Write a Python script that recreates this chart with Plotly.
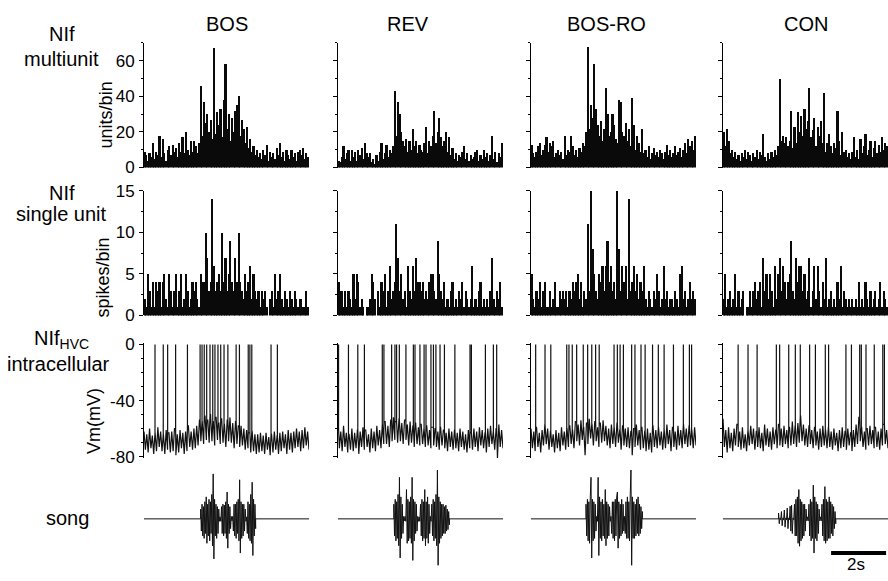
import numpy as np
import plotly.graph_objects as go

# ---------------- data ----------------
STIMULI = ["BOS", "REV", "BOS-RO", "CON"]
DURATION_S = 6.0

# NIf multiunit histograms (units/bin), 100 bins over 6 s
MU_BOS = [9, 7, 4, 8, 6, 14, 5, 9, 7, 18,
          6, 16, 8, 4, 10, 12, 7, 13, 9, 11,
          6, 14, 9, 17, 8, 20, 10, 7, 15, 9,
          15, 12, 8, 14, 46, 18, 37, 25, 30, 20,
          27, 16, 67, 19, 31, 24, 33, 17, 38, 58,
          22, 30, 15, 28, 20, 32, 35, 40, 18, 27,
          22, 14, 23, 11, 16, 9, 12, 7, 10, 6,
          8, 5, 10, 7, 13, 4, 9, 6, 8, 5,
          11, 7, 14, 6, 9, 4, 10, 7, 5, 10,
          6, 8, 4, 9, 10, 7, 11, 5, 8, 6]
MU_REV = [4, 3, 6, 12, 5, 8, 10, 4, 10, 6,
          9, 4, 10, 7, 11, 5, 14, 8, 6, 8,
          3, 5, 2, 7, 4, 9, 14, 5, 8, 13,
          6, 10, 8, 12, 43, 18, 37, 30, 20, 15,
          12, 16, 9, 15, 10, 22, 12, 15, 8, 13,
          10, 9, 14, 23, 8, 15, 12, 18, 32, 14,
          20, 28, 17, 12, 15, 20, 9, 17, 7, 11,
          5, 8, 4, 7, 6, 9, 12, 5, 8, 4,
          7, 5, 6, 9, 10, 4, 7, 5, 10, 6,
          8, 4, 7, 18, 5, 9, 3, 8, 6, 14]
MU_BOSRO = [13, 8, 6, 9, 12, 14, 7, 10, 13, 17,
            9, 14, 12, 15, 6, 8, 10, 7, 9, 5,
            18, 7, 10, 9, 18, 12, 7, 10, 6, 11,
            9, 14, 12, 20, 68, 22, 35, 28, 58, 33,
            24, 18, 26, 15, 22, 45, 30, 18, 20, 30,
            24, 16, 14, 38, 37, 20, 18, 25, 15, 22,
            12, 39, 24, 10, 18, 14, 9, 22, 8, 10,
            6, 12, 5, 8, 11, 7, 9, 6, 10, 8,
            5, 9, 13, 7, 10, 6, 8, 12, 7, 9,
            11, 6, 10, 14, 8, 16, 12, 15, 10, 18]
MU_CON = [20, 12, 22, 15, 8, 10, 6, 9, 5, 7,
          4, 8, 6, 10, 5, 9, 7, 4, 8, 6,
          10, 5, 9, 7, 19, 6, 4, 8, 5, 9,
          6, 10, 7, 12, 50, 15, 18, 14, 17, 12,
          15, 32, 11, 23, 14, 31, 20, 29, 18, 33,
          22, 26, 45, 17, 21, 28, 12, 23, 18, 26,
          14, 42, 9, 14, 19, 12, 8, 14, 11, 32,
          15, 7, 20, 9, 10, 6, 8, 5, 9, 17,
          6, 10, 5, 16, 8, 12, 19, 7, 10, 15,
          6, 11, 15, 8, 13, 9, 17, 10, 14, 12]

# NIf single unit histograms (spikes/bin)
SU_BOS = [2, 1, 5, 3, 1, 4, 1, 4, 3, 4,
          1, 4, 5, 2, 1, 5, 3, 1, 3, 5,
          1, 3, 5, 1, 2, 5, 3, 1, 2, 4,
          3, 4, 2, 1, 5, 4, 4, 10, 7, 3,
          4, 14, 6, 3, 4, 5, 3, 10, 4, 7,
          3, 5, 9, 4, 3, 7, 4, 10, 4, 3,
          2, 5, 3, 4, 6, 2, 5, 3, 2, 3,
          1, 3, 2, 3, 1, 0, 2, 3, 1, 5,
          2, 3, 5, 2, 1, 3, 2, 1, 3, 2,
          1, 3, 2, 1, 2, 2, 1, 1, 3, 1]
SU_REV = [4, 3, 3, 1, 3, 1, 3, 2, 1, 5,
          2, 5, 4, 1, 2, 1, 0, 1, 1, 2,
          5, 4, 2, 0, 3, 1, 4, 3, 5, 1,
          3, 6, 2, 3, 4, 11, 7, 3, 5, 2,
          3, 1, 6, 3, 2, 6, 3, 7, 4, 4,
          3, 4, 2, 3, 2, 4, 5, 5, 3, 2,
          9, 5, 3, 2, 4, 1, 2, 1, 3, 4,
          1, 2, 1, 3, 2, 4, 1, 3, 2, 1,
          2, 6, 1, 2, 1, 3, 4, 1, 2, 1,
          2, 1, 3, 7, 2, 1, 3, 2, 4, 1]
SU_BOSRO = [5, 2, 1, 3, 2, 4, 1, 3, 4, 1,
            1, 3, 1, 2, 4, 1, 1, 3, 2, 3,
            2, 3, 1, 3, 2, 4, 3, 4, 5, 2,
            4, 1, 3, 2, 11, 3, 15, 8, 5, 3,
            2, 5, 4, 6, 3, 6, 9, 4, 6, 3,
            4, 2, 15, 8, 3, 6, 4, 6, 2, 14,
            3, 4, 6, 3, 5, 2, 4, 3, 6, 2,
            1, 3, 2, 1, 3, 2, 5, 3, 1, 2,
            6, 2, 3, 1, 2, 2, 1, 3, 2, 1,
            5, 6, 2, 3, 1, 2, 4, 2, 3, 2]
SU_CON = [2, 5, 1, 2, 3, 1, 2, 5, 1, 3,
          1, 2, 3, 0, 1, 1, 3, 1, 3, 4,
          2, 3, 4, 1, 7, 3, 5, 2, 5, 3,
          1, 6, 2, 5, 7, 3, 6, 4, 2, 4,
          5, 9, 3, 2, 7, 4, 6, 6, 3, 5,
          2, 3, 7, 1, 3, 6, 2, 6, 3, 1,
          4, 2, 7, 1, 2, 3, 1, 2, 1, 4,
          2, 6, 1, 3, 2, 1, 2, 1, 2, 1,
          2, 1, 4, 1, 2, 1, 4, 2, 1, 3,
          1, 2, 3, 1, 2, 4, 1, 3, 2, 1]

# NIf_HVC intracellular membrane potential (mV), 120 samples over 6 s
VM_BOS = [-62, -75, -64, -77, -60, -74, -65, -78, -63, -76, -59, -73, -62, -76, -64, -78, -61, -75, -63, -77,
          -62, -76, -60, -79, -64, -77, -61, -74, -63, -78, -62, -76, -58, -73, -62, -75, -60, -74, -58, -72,
          -54, -69, -55, -71, -51, -68, -54, -70, -50, -69, -55, -72, -52, -68, -56, -71, -53, -70, -57, -73,
          -54, -69, -52, -70, -56, -74, -55, -71, -58, -73, -58, -72, -60, -75, -61, -74, -63, -77, -62, -76,
          -64, -78, -64, -77, -63, -76, -65, -78, -63, -75, -66, -79, -64, -77, -62, -75, -65, -78, -63, -76,
          -62, -74, -64, -78, -61, -75, -63, -77, -62, -74, -60, -73, -62, -76, -61, -74, -59, -72, -62, -75]
VM_REV = [-60, -74, -62, -76, -58, -73, -63, -77, -64, -75, -60, -76, -63, -74, -61, -78, -62, -73, -59, -75,
          -61, -73, -64, -77, -60, -74, -62, -76, -58, -72, -61, -74, -57, -71, -55, -71, -58, -73, -54, -69,
          -52, -68, -55, -70, -53, -69, -56, -71, -54, -68, -57, -72, -55, -70, -58, -73, -56, -71, -59, -72,
          -57, -71, -60, -73, -58, -72, -61, -74, -59, -72, -60, -73, -62, -75, -59, -72, -61, -74, -63, -76,
          -60, -73, -62, -75, -61, -74, -63, -76, -60, -73, -62, -75, -64, -77, -61, -74, -63, -75, -60, -73,
          -62, -76, -59, -72, -61, -74, -63, -77, -60, -73, -58, -71, -62, -75, -60, -81, -57, -73, -61, -74]
VM_BOSRO = [-60, -74, -62, -76, -59, -73, -63, -77, -61, -72, -57, -71, -60, -75, -62, -73, -64, -77, -61, -74,
            -63, -76, -59, -72, -62, -75, -60, -73, -58, -71, -61, -74, -55, -69, -57, -72, -54, -68, -59, -79,
            -56, -71, -53, -67, -57, -72, -55, -69, -59, -73, -56, -70, -54, -69, -58, -72, -60, -74, -57, -71,
            -59, -73, -56, -70, -61, -75, -58, -72, -60, -73, -59, -74, -62, -79, -60, -73, -57, -72, -61, -75,
            -59, -74, -62, -76, -60, -75, -63, -77, -58, -73, -61, -74, -59, -72, -62, -75, -60, -74, -57, -71,
            -61, -76, -59, -73, -62, -75, -58, -72, -61, -74, -57, -71, -60, -73, -58, -72, -61, -74, -59, -72]
VM_CON = [-53, -73, -61, -77, -59, -74, -63, -76, -60, -72, -57, -73, -62, -75, -59, -74, -64, -76, -61, -72,
          -58, -71, -60, -75, -62, -73, -59, -74, -63, -76, -57, -72, -60, -73, -62, -75, -59, -71, -61, -74,
          -57, -72, -60, -73, -58, -71, -61, -74, -59, -72, -55, -71, -58, -73, -56, -70, -51, -69, -57, -72,
          -60, -73, -58, -71, -61, -74, -59, -72, -62, -75, -60, -73, -58, -72, -61, -74, -59, -73, -62, -75,
          -60, -72, -63, -76, -61, -74, -59, -73, -62, -75, -60, -72, -63, -76, -61, -73, -57, -71, -52, -69,
          -59, -73, -62, -75, -60, -72, -58, -71, -61, -74, -59, -73, -62, -75, -60, -72, -57, -71, -61, -74]

# spike times (s)
SPIKES_BOS = [0.40, 0.70, 0.86, 1.15, 1.58, 2.04, 2.11, 2.19, 2.28, 2.40, 2.50, 2.58, 2.69, 2.79,
              2.91, 3.05, 3.35, 3.47, 3.79, 3.85, 3.92, 4.62, 4.85]
SPIKES_REV = [0.02, 0.38, 0.72, 0.96, 1.61, 1.67, 1.95, 2.07, 2.13, 2.23, 2.47, 2.74, 2.80, 2.98,
              3.13, 3.20, 3.38, 3.47, 3.56, 3.71, 3.87, 4.25, 4.80, 4.85, 5.36, 5.65, 5.77]
SPIKES_BOSRO = [0.17, 0.51, 0.72, 1.30, 1.38, 1.50, 1.66, 1.90, 2.06, 2.21, 2.35, 2.48, 3.02, 3.14,
                3.24, 3.36, 3.66, 3.78, 4.00, 4.15, 4.42, 4.63, 4.84, 5.18, 5.54, 5.76, 5.84]
SPIKES_CON = [0.55, 0.91, 1.24, 1.94, 2.06, 2.39, 2.63, 2.81, 3.15, 3.36, 3.72, 3.84, 4.47, 4.67,
              4.97, 5.03, 5.20, 5.50, 5.81, 5.87]
SPIKE_PEAK_MV = 0

# song waveforms (relative amplitude), 80 samples over each song's span
SONG_BOS = [0.2, -0.25, 0.3, -0.35, 0.25, -0.4, 0.35, -0.3, 0.45, -0.5, 0.3, -0.35, 0.4, -0.45, 0.35, -0.3,
            0.5, -0.55, 0.92, -0.82, 0.4, -0.35, 0.3, -0.4, 0.25, -0.3, 0.2,
            -0.05, 0.04, -0.05,
            0.25, -0.3, 0.3, -0.35, 0.28, -0.3, 0.35, -0.4, 0.55, -0.6, 0.3, -0.3, 0.25, -0.2,
            0.05, -0.04, 0.05,
            -0.25, 0.3, -0.35, 0.3, -0.4, 0.35, -0.3, 0.4, -0.45, 0.8, -0.7, 0.35, -0.4, 0.3, -0.35, 0.3, -0.25, 0.2,
            -0.05, 0.04,
            -0.3, 0.35, -0.4, 0.3, -0.45, 0.5, -0.5, 0.75, -0.75, 0.4, -0.35, 0.3, -0.2]
SONG_REV = [0.3, -0.35, 0.4, -0.45, 0.35, -0.4, 0.5, -0.55, 0.85, -0.8, 0.45, -0.4, 0.3, -0.3,
            0.05, -0.04, 0.05, -0.05,
            0.6, -0.5, 0.4, -0.45, 0.35, -0.4, 0.45, -0.5, 0.85, -0.85, 0.4, -0.45, 0.35, -0.3, 0.3, -0.25,
            0.05, -0.05, 0.04, -0.05,
            0.3, -0.35, 0.4, -0.45, 0.35, -0.4, 0.6, -0.55, 0.35, -0.4, 0.45, -0.5, 0.3, -0.3,
            0.05, -0.05,
            0.3, -0.35, 0.4, -0.45, 0.35, -0.4, 0.5, -0.55, 1.0, -0.95, 0.45, -0.5, 0.35, -0.4, 0.3, -0.35,
            0.3, -0.3, 0.25, -0.3, 0.28, -0.25, 0.2, -0.22, 0.15, -0.12]
SONG_BOSRO = [0.3, -0.35, 0.4, -0.45, 0.35, -0.5, 0.45, 0.85, -0.8, 0.4, -0.45, 0.35, -0.4, 0.3, -0.25,
              0.05, -0.05,
              0.85, -0.75, 0.45, -0.4, 0.35, -0.45, 0.4, -0.35, 0.3, -0.4, 0.6, -0.55, 0.35, -0.4, 0.3, -0.35, 0.25,
              -0.05, 0.05,
              -0.3, 0.35, -0.4, 0.35, -0.45, 0.4, -0.35, 0.45, 0.55, -0.6, 0.35, -0.4, 0.3, -0.35, 0.4, -0.3, 0.3, -0.25,
              0.05,
              -0.3, 0.35, -0.4, 0.45, -0.4, 0.35, -0.45, 0.5, 1.0, -0.95, 0.45, -0.4, 0.35, -0.4, 0.3, -0.35,
              0.4, -0.3, 0.45, -0.35, 0.3, -0.3, 0.25, -0.2, 0.15]
SONG_CON = [0.12, -0.1, 0.02, -0.02, 0.15, -0.14, 0.02, -0.02, 0.18, -0.17, 0.02, -0.02, 0.22, -0.2, 0.02, -0.02,
            0.26, -0.25, 0.28, -0.3, 0.02, -0.02,
            0.3, -0.35, 0.4, -0.35, 0.45, -0.5, 0.6, -0.56, 0.4, -0.45, 0.35, -0.4, 0.3, -0.35, 0.3, -0.25, 0.2,
            -0.04, 0.04, -0.04,
            0.3, -0.35, 0.4, -0.45, 0.35, -0.4, 0.69, -0.7, 0.45, -0.4, 0.35, -0.45, 0.3, -0.3, 0.2,
            -0.04, 0.04, -0.04,
            0.3, -0.35, 0.4, -0.45, 0.66, -0.5, 0.4, -0.45, 0.35, -0.4, 0.45, -0.4, 0.35, -0.3, 0.3, -0.35,
            0.25, -0.2, 0.15, -0.1]
SONG_START_S = [2.06, 2.03, 2.00, 2.02]
SONG_END_S = [4.06, 4.05, 4.05, 4.10]

MU_TICKS = [0, 20, 40, 60]
SU_TICKS = [0, 5, 10, 15]
VM_TICKVALS = [0, -40, -80]
VM_TICKTEXT = ["0", "-40", "-80"]
SCALEBAR_LEN_S = 2
SCALEBAR_START_S = 3.93

MU = [MU_BOS, MU_REV, MU_BOSRO, MU_CON]
SU = [SU_BOS, SU_REV, SU_BOSRO, SU_CON]
VM = [VM_BOS, VM_REV, VM_BOSRO, VM_CON]
SPIKES = [SPIKES_BOS, SPIKES_REV, SPIKES_BOSRO, SPIKES_CON]
SONGS = [SONG_BOS, SONG_REV, SONG_BOSRO, SONG_CON]

# ---------------- layout geometry (pixels) ----------------
W, H = 888, 581
FONT = "Liberation Sans, Arial, Helvetica, sans-serif"
COL_LEFT = [144, 338, 531, 723]
COL_W = 165
# (top_px, bottom_px, range)
ROWS = [
    (35.0, 163.9, [0, 70]),
    (187.9, 316.8, [0, 15]),
    (345.3, 464.3, [-81, 1]),
    (476.6, 577.6, [-1, 1]),
]


def xdom(c):
    return [COL_LEFT[c] / W, (COL_LEFT[c] + COL_W) / W]


def ydom(r):
    top, bot, _ = ROWS[r]
    return [1 - bot / H, 1 - top / H]


fig = go.Figure()
layout = {}


def axname(r, c):
    return r * 4 + c + 1


for r in range(4):
    for c in range(4):
        k = axname(r, c)
        xa = "xaxis" if k == 1 else f"xaxis{k}"
        ya = "yaxis" if k == 1 else f"yaxis{k}"
        layout[xa] = dict(domain=xdom(c), range=[0, DURATION_S], visible=False,
                          anchor="y" if k == 1 else f"y{k}", fixedrange=True)
        yax = dict(domain=ydom(r), range=ROWS[r][2], anchor="x" if k == 1 else f"x{k}",
                   showgrid=False, zeroline=False, fixedrange=True,
                   tickfont=dict(family=FONT, size=17, color="black"))
        if r < 3:
            yax.update(showline=True, linecolor="black", linewidth=1,
                       ticks="outside", ticklen=4, tickcolor="black", tickwidth=1,
                       showticklabels=(c == 0), ticklabelstandoff=1)
            if r == 0:
                yax.update(tickvals=MU_TICKS,
                           minor=dict(ticks="outside", ticklen=2, dtick=10, tickcolor="black"))
            elif r == 1:
                yax.update(tickvals=SU_TICKS,
                           minor=dict(ticks="outside", ticklen=2, dtick=2.5, tickcolor="black"))
            else:
                yax.update(tickvals=VM_TICKVALS, ticktext=VM_TICKTEXT,
                           minor=dict(ticks="outside", ticklen=2, dtick=10, tickcolor="black"))
        else:
            yax.update(visible=False)
        layout[ya] = yax

for c in range(4):
    # multiunit histogram
    k = axname(0, c)
    centers = (np.arange(len(MU[c])) + 0.5) * DURATION_S / len(MU[c])
    fig.add_trace(go.Bar(x=centers, y=MU[c], marker=dict(color="#0a0a0a", line=dict(width=0)),
                         width=DURATION_S / len(MU[c]), xaxis="x" if k == 1 else f"x{k}",
                         yaxis="y" if k == 1 else f"y{k}", showlegend=False))
    # single unit histogram
    k = axname(1, c)
    centers = (np.arange(len(SU[c])) + 0.5) * DURATION_S / len(SU[c])
    fig.add_trace(go.Bar(x=centers, y=SU[c], marker=dict(color="#0a0a0a", line=dict(width=0)),
                         width=DURATION_S / len(SU[c]), xaxis=f"x{k}", yaxis=f"y{k}",
                         showlegend=False))
    # membrane potential with spikes
    k = axname(2, c)
    base = np.array(VM[c], dtype=float)
    tb = np.linspace(0, DURATION_S, len(base))
    events = [(t, 0, v) for t, v in zip(tb, base)]
    for s in SPIKES[c]:
        j = int(np.clip(np.searchsorted(tb, s), 1, len(tb) - 1))
        v0 = max(base[j - 1], base[j])
        events += [(s, 1, v0), (s, 2, SPIKE_PEAK_MV), (s, 3, v0)]
    events.sort(key=lambda e: (e[0], e[1]))
    fig.add_trace(go.Scatter(x=[e[0] for e in events], y=[e[2] for e in events], mode="lines",
                             line=dict(color="#111111", width=1.2, simplify=False),
                             xaxis=f"x{k}", yaxis=f"y{k}", showlegend=False, hoverinfo="skip"))
    # song
    k = axname(3, c)
    ts = np.linspace(SONG_START_S[c], SONG_END_S[c], len(SONGS[c]))
    xs = [0.0, SONG_START_S[c]] + list(ts) + [SONG_END_S[c], DURATION_S]
    ys = [0.0, 0.0] + list(SONGS[c]) + [0.0, 0.0]
    fig.add_trace(go.Scatter(x=xs, y=ys, mode="lines",
                             line=dict(color="#111111", width=1, simplify=False),
                             xaxis=f"x{k}", yaxis=f"y{k}", showlegend=False, hoverinfo="skip"))

# scale bar (2 s) under CON song
k = axname(3, 3)
fig.add_shape(type="line", xref=f"x{k}", yref=f"y{k}",
              x0=SCALEBAR_START_S, x1=SCALEBAR_START_S + SCALEBAR_LEN_S, y0=-0.70, y1=-0.70,
              line=dict(color="black", width=4))

annotations = []


def ann(text, x, y, size=20, angle=0, xanchor="center", yanchor="middle", yshift=0):
    annotations.append(dict(text=text, x=x / W, y=1 - y / H, xref="paper", yref="paper",
                            showarrow=False, textangle=angle, xanchor=xanchor, yanchor=yanchor,
                            yshift=yshift, font=dict(family=FONT, size=size, color="black")))


for name, cx in zip(STIMULI, [227, 408, 606, 806]):
    ann(name, cx, 16)
ann("NIf", 62, 25.6)
ann("multiunit", 62, 52)
ann("NIf", 62, 190.5)
ann("single unit", 62, 212)
ann("NIf<sub>HVC</sub>", 62, 341.5)
ann("intracellular", 58, 366.5)
ann("song", 67, 526)
ann("units/bin", 106, 110, size=18, angle=-90)
ann("spikes/bin", 103, 277.6, size=18, angle=-90)
ann("Vm(mV)", 94, 426, size=18, angle=-90)
ann(f"{SCALEBAR_LEN_S}s", 856, 581, size=17, yanchor="bottom", yshift=-5)

fig.update_layout(width=W, height=H, margin=dict(l=0, r=0, t=0, b=0),
                  paper_bgcolor="white", plot_bgcolor="rgba(0,0,0,0)",
                  bargap=0, showlegend=False, annotations=annotations, **layout)

fig.write_html("out.html")
